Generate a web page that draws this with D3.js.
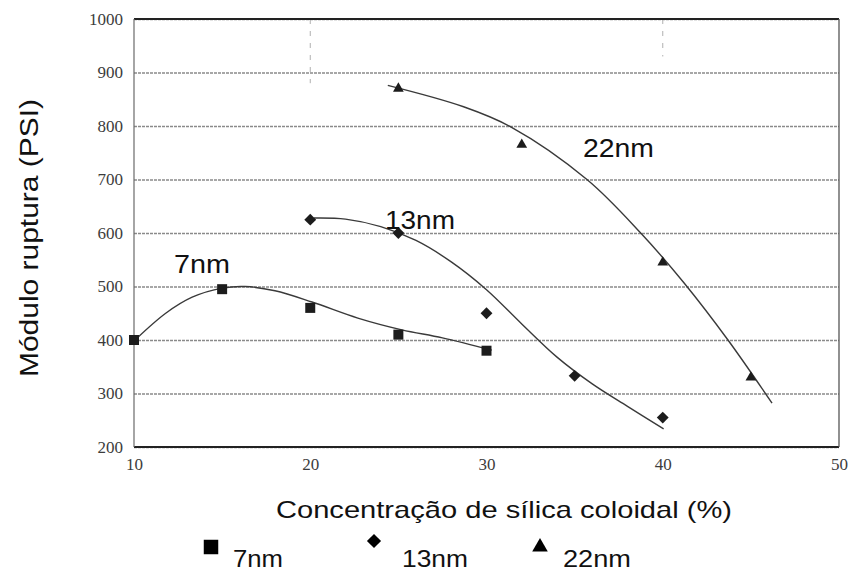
<!DOCTYPE html>
<html>
<head>
<meta charset="utf-8">
<script src="https://cdn.jsdelivr.net/npm/d3@7"></script>
<style>
  html, body { margin: 0; padding: 0; background: #fff; }
  svg { display: block; }
</style>
</head>
<body>
<svg id="chart" width="850" height="572"></svg>
<script>
// Measured points: silica concentration (%) vs modulus of rupture (PSI)
const conc7  = [10, 15, 20, 25, 30];
const mod7   = [400, 495, 460, 410, 380];
const conc13 = [20, 25, 30, 35, 40];
const mod13  = [625, 600, 450, 333, 255];
const conc22 = [25, 32, 40, 45];
const mod22  = [870, 765, 545, 330];

// Trend curves (smoothed fits through each series)
const trend7X  = [10.06, 11.8, 13.3, 15, 16.3, 18, 20.1, 22.7, 25.2, 27.5, 30.3];
const trend7Y  = [400, 450, 480, 497, 500, 492, 471, 441, 419, 404, 381];
const trend13X = [20.2, 22, 24, 26, 28, 30, 32, 34, 36, 38, 40.05];
const trend13Y = [628, 626, 612, 586, 546, 494, 430, 368, 318, 276, 234];
const trend22X = [24.4, 28.7, 31.4, 35.7, 38.75, 41.2, 43.7, 46.2];
const trend22Y = [876, 836, 798, 700, 600, 507, 400, 282];

const xTicks = [10, 20, 30, 40, 50];
const yTicks = [200, 300, 400, 500, 600, 700, 800, 900, 1000];
const seriesNames = ["7nm", "13nm", "22nm"];

const xTitle = "Concentração de sílica coloidal (%)";
const yTitle = "Módulo ruptura (PSI)";

const svg = d3.select("#chart");
const plotLeft = 134, plotRight = 839, plotTop = 19, plotBottom = 447;

const x = d3.scaleLinear().domain([10, 50]).range([plotLeft, plotRight]);
const y = d3.scaleLinear().domain([200, 1000]).range([plotBottom, plotTop]);

const ink = "#1c1c1c";
const serif = "'Liberation Serif', 'DejaVu Serif', serif";
const sans = "'Liberation Sans', Arial, sans-serif";

// Horizontal gridlines with y tick labels
const yAxis = svg.append("g")
  .attr("transform", `translate(${plotLeft},0)`)
  .call(d3.axisLeft(y).tickValues(yTicks).tickFormat(d3.format("d"))
    .tickSize(-(plotRight - plotLeft)).tickPadding(11));
yAxis.select(".domain").remove();
yAxis.selectAll(".tick line")
  .attr("stroke", "#8a8a8a")
  .attr("stroke-width", 1.3)
  .attr("stroke-dasharray", "3,1");
yAxis.selectAll(".tick text")
  .style("font-family", serif)
  .style("font-size", "17px")
  .attr("fill", "#3c3c3c");

// X tick labels
const xAxis = svg.append("g")
  .attr("transform", `translate(0,${plotBottom})`)
  .call(d3.axisBottom(x).tickValues(xTicks).tickFormat(d3.format("d")).tickSize(0).tickPadding(11));
xAxis.select(".domain").remove();
xAxis.selectAll(".tick text")
  .style("font-family", serif)
  .style("font-size", "17px")
  .attr("fill", "#3c3c3c");

// Faint remnants of vertical gridlines near the top
[[20, 880], [40, 930]].forEach(([xv, yv]) => {
  svg.append("line")
    .attr("x1", x(xv)).attr("x2", x(xv))
    .attr("y1", y(1000)).attr("y2", y(yv))
    .attr("stroke", "#b0b0b0").attr("stroke-width", 1)
    .attr("stroke-dasharray", "5,7");
});

// Plot frame
const frame = svg.append("g");
frame.append("line").attr("x1", plotLeft).attr("x2", plotRight).attr("y1", y(1000)).attr("y2", y(1000))
  .attr("stroke", "#222").attr("stroke-width", 2.2);
frame.append("line").attr("x1", plotLeft).attr("x2", plotRight).attr("y1", y(200)).attr("y2", y(200))
  .attr("stroke", "#222").attr("stroke-width", 2.2);
frame.append("line").attr("x1", plotLeft).attr("x2", plotLeft).attr("y1", y(1000)).attr("y2", y(200))
  .attr("stroke", "#6a6a6a").attr("stroke-width", 1.2);
frame.append("line").attr("x1", plotRight).attr("x2", plotRight).attr("y1", y(1000)).attr("y2", y(200))
  .attr("stroke", "#555").attr("stroke-width", 1.3);

// Trend curves
const line = d3.line().x(d => x(d[0])).y(d => y(d[1])).curve(d3.curveCatmullRom.alpha(0.5));
const trends = [
  d3.zip(trend7X, trend7Y),
  d3.zip(trend13X, trend13Y),
  d3.zip(trend22X, trend22Y)
];
svg.append("g").selectAll("path").data(trends).join("path")
  .attr("d", line)
  .attr("fill", "none")
  .attr("stroke", "#3a3a3a")
  .attr("stroke-width", 1.4);

// Markers
const squareSym = d3.symbol().type(d3.symbolSquare);
const triSym = d3.symbol().type(d3.symbolTriangle);

svg.append("g").selectAll("path").data(d3.zip(conc7, mod7)).join("path")
  .attr("transform", d => `translate(${x(d[0])},${y(d[1])})`)
  .attr("d", squareSym.size(100)())
  .attr("fill", ink);

svg.append("g").selectAll("path").data(d3.zip(conc13, mod13)).join("path")
  .attr("transform", d => `translate(${x(d[0])},${y(d[1])}) rotate(45)`)
  .attr("d", squareSym.size(70)())
  .attr("fill", ink);

svg.append("g").selectAll("path").data(d3.zip(conc22, mod22)).join("path")
  .attr("transform", d => `translate(${x(d[0])},${y(d[1])})`)
  .attr("d", triSym.size(50)())
  .attr("fill", ink);

// In-plot series labels
const inLabels = [
  { text: seriesNames[0], x0: 174, len: 56, base: 273 },
  { text: seriesNames[1], x0: 385, len: 70, base: 229 },
  { text: seriesNames[2], x0: 583, len: 71, base: 157 }
];
svg.append("g").selectAll("text").data(inLabels).join("text")
  .attr("x", d => d.x0).attr("y", d => d.base)
  .attr("textLength", d => d.len)
  .attr("lengthAdjust", "spacingAndGlyphs")
  .attr("font-family", sans).attr("font-size", 25)
  .attr("fill", "#111")
  .text(d => d.text);

// Axis titles
svg.append("text")
  .attr("x", 276).attr("y", 518)
  .attr("textLength", 456).attr("lengthAdjust", "spacingAndGlyphs")
  .attr("font-family", sans).attr("font-size", 24).attr("fill", "#111")
  .text(xTitle);

svg.append("text")
  .attr("transform", "translate(38,238) rotate(-90)")
  .attr("text-anchor", "middle")
  .attr("textLength", 278).attr("lengthAdjust", "spacingAndGlyphs")
  .attr("font-family", sans).attr("font-size", 25).attr("fill", "#111")
  .text(yTitle);

// Legend
const legend = [
  { name: seriesNames[0], sx: 211, sy: 547, tx: 233, tlen: 50, path: squareSym.size(210)(), rot: 0 },
  { name: seriesNames[1], sx: 374, sy: 541, tx: 402, tlen: 66, path: squareSym.size(100)(), rot: 45 },
  { name: seriesNames[2], sx: 540, sy: 547, tx: 563, tlen: 68, path: triSym.size(105)(), rot: 0 }
];
const lg = svg.append("g").selectAll("g").data(legend).join("g");
lg.append("path")
  .attr("transform", d => `translate(${d.sx},${d.sy}) rotate(${d.rot})`)
  .attr("d", d => d.path)
  .attr("fill", "#000");
lg.append("text")
  .attr("x", d => d.tx).attr("y", 567)
  .attr("textLength", d => d.tlen).attr("lengthAdjust", "spacingAndGlyphs")
  .attr("font-family", sans).attr("font-size", 23).attr("fill", "#111")
  .text(d => d.name);
</script>
</body>
</html>
